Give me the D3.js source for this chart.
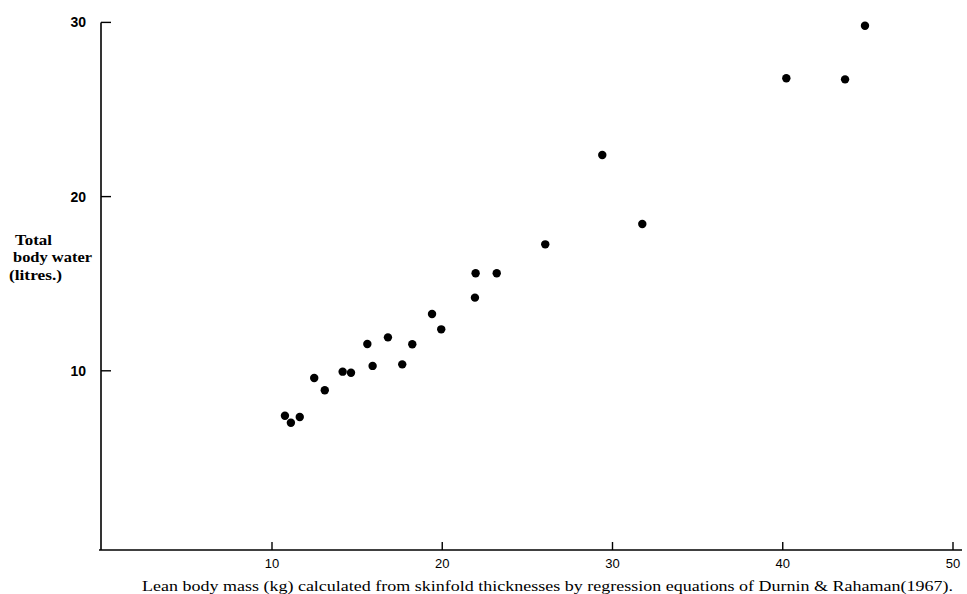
<!DOCTYPE html>
<html>
<head>
<meta charset="utf-8">
<script src="https://cdnjs.cloudflare.com/ajax/libs/d3/7.8.5/d3.min.js"></script>
<style>
  body { margin: 0; background: #fff; }
  svg { display: block; }
</style>
</head>
<body>
<svg id="chart" width="967" height="594"></svg>
<script>
// lean body mass (kg) vs total body water (litres)
var leanMass = [10.76, 11.11, 11.63, 12.48, 13.10, 14.15, 14.64, 15.60, 15.91, 16.81,
    17.65, 18.24, 19.40, 19.94, 21.92, 21.96, 23.20, 26.05, 29.40, 31.75,
    40.21, 43.66, 44.83];
var bodyWater = [7.42, 7.02, 7.35, 9.59, 8.88, 9.95, 9.89, 11.54, 10.28, 11.92,
    10.37, 11.52, 13.26, 12.38, 14.20, 15.60, 15.60, 17.26, 22.39, 18.43,
    26.79, 26.73, 29.81];
var xTicks = [10, 20, 30, 40, 50];
var yTicks = [10, 20, 30];

var svg = d3.select("#chart");

var x = d3.scaleLinear().domain([0, 50]).range([101.75, 953]);
var y = d3.scaleLinear().domain([0, 30]).range([545, 22.4]);

var axisY = 550, axisX = 101;

// x axis
svg.append("line")
    .attr("x1", axisX - 2).attr("x2", 962)
    .attr("y1", axisY).attr("y2", axisY)
    .attr("stroke", "#000").attr("stroke-width", 1.6);
svg.selectAll(".xtick")
    .data(xTicks)
    .enter()
    .append("line")
    .attr("x1", function (d) { return x(d) }).attr("x2", function (d) { return x(d) })
    .attr("y1", axisY).attr("y2", axisY - 8)
    .attr("stroke", "#000").attr("stroke-width", 1.4);
svg.selectAll(".xlab")
    .data(xTicks)
    .enter()
    .append("text")
    .attr("x", function (d) { return x(d) })
    .attr("y", 568)
    .attr("text-anchor", "middle")
    .style("font-family", "'Liberation Sans', Arial, sans-serif")
    .style("font-size", "13px")
    .text(function (d) { return d });

// y axis
svg.append("line")
    .attr("x1", axisX).attr("x2", axisX)
    .attr("y1", y(30)).attr("y2", axisY)
    .attr("stroke", "#000").attr("stroke-width", 1.6);
svg.selectAll(".ytick")
    .data(yTicks)
    .enter()
    .append("line")
    .attr("x1", axisX).attr("x2", axisX + 10)
    .attr("y1", function (d) { return y(d) }).attr("y2", function (d) { return y(d) })
    .attr("stroke", "#000").attr("stroke-width", 1.4);
svg.selectAll(".ylab")
    .data(yTicks)
    .enter()
    .append("text")
    .attr("x", 86)
    .attr("y", function (d) { return y(d) + 5 })
    .attr("text-anchor", "end")
    .style("font-family", "'Liberation Sans', Arial, sans-serif")
    .style("font-size", "14px")
    .style("font-weight", "bold")
    .text(function (d) { return d });

// points
svg.selectAll("circle")
    .data(leanMass)
    .enter()
    .append("circle")
    .attr("cx", function (d) { return x(d) })
    .attr("cy", function (d, i) { return y(bodyWater[i]) })
    .attr("r", 4.2)
    .style("fill", "#000");

// axis titles
var serif = "'Liberation Serif', 'Times New Roman', serif";
var yTitle = [
    { t: "Total", x: 15, y: 245, w: 37 },
    { t: "body water", x: 13, y: 262, w: 79 },
    { t: "(litres.)", x: 9, y: 280, w: 53 }
];
svg.selectAll(".ytitle")
    .data(yTitle)
    .enter()
    .append("text")
    .attr("x", function (d) { return d.x })
    .attr("y", function (d) { return d.y })
    .attr("textLength", function (d) { return d.w })
    .attr("lengthAdjust", "spacingAndGlyphs")
    .style("font-family", serif)
    .style("font-size", "15px")
    .style("font-weight", "bold")
    .text(function (d) { return d.t });

svg.append("text")
    .attr("x", 142)
    .attr("y", 591)
    .attr("textLength", 811)
    .attr("lengthAdjust", "spacingAndGlyphs")
    .style("font-family", serif)
    .style("font-size", "15px")
    .text("Lean body mass (kg) calculated from skinfold thicknesses by regression equations of Durnin & Rahaman(1967).");
</script>
</body>
</html>
